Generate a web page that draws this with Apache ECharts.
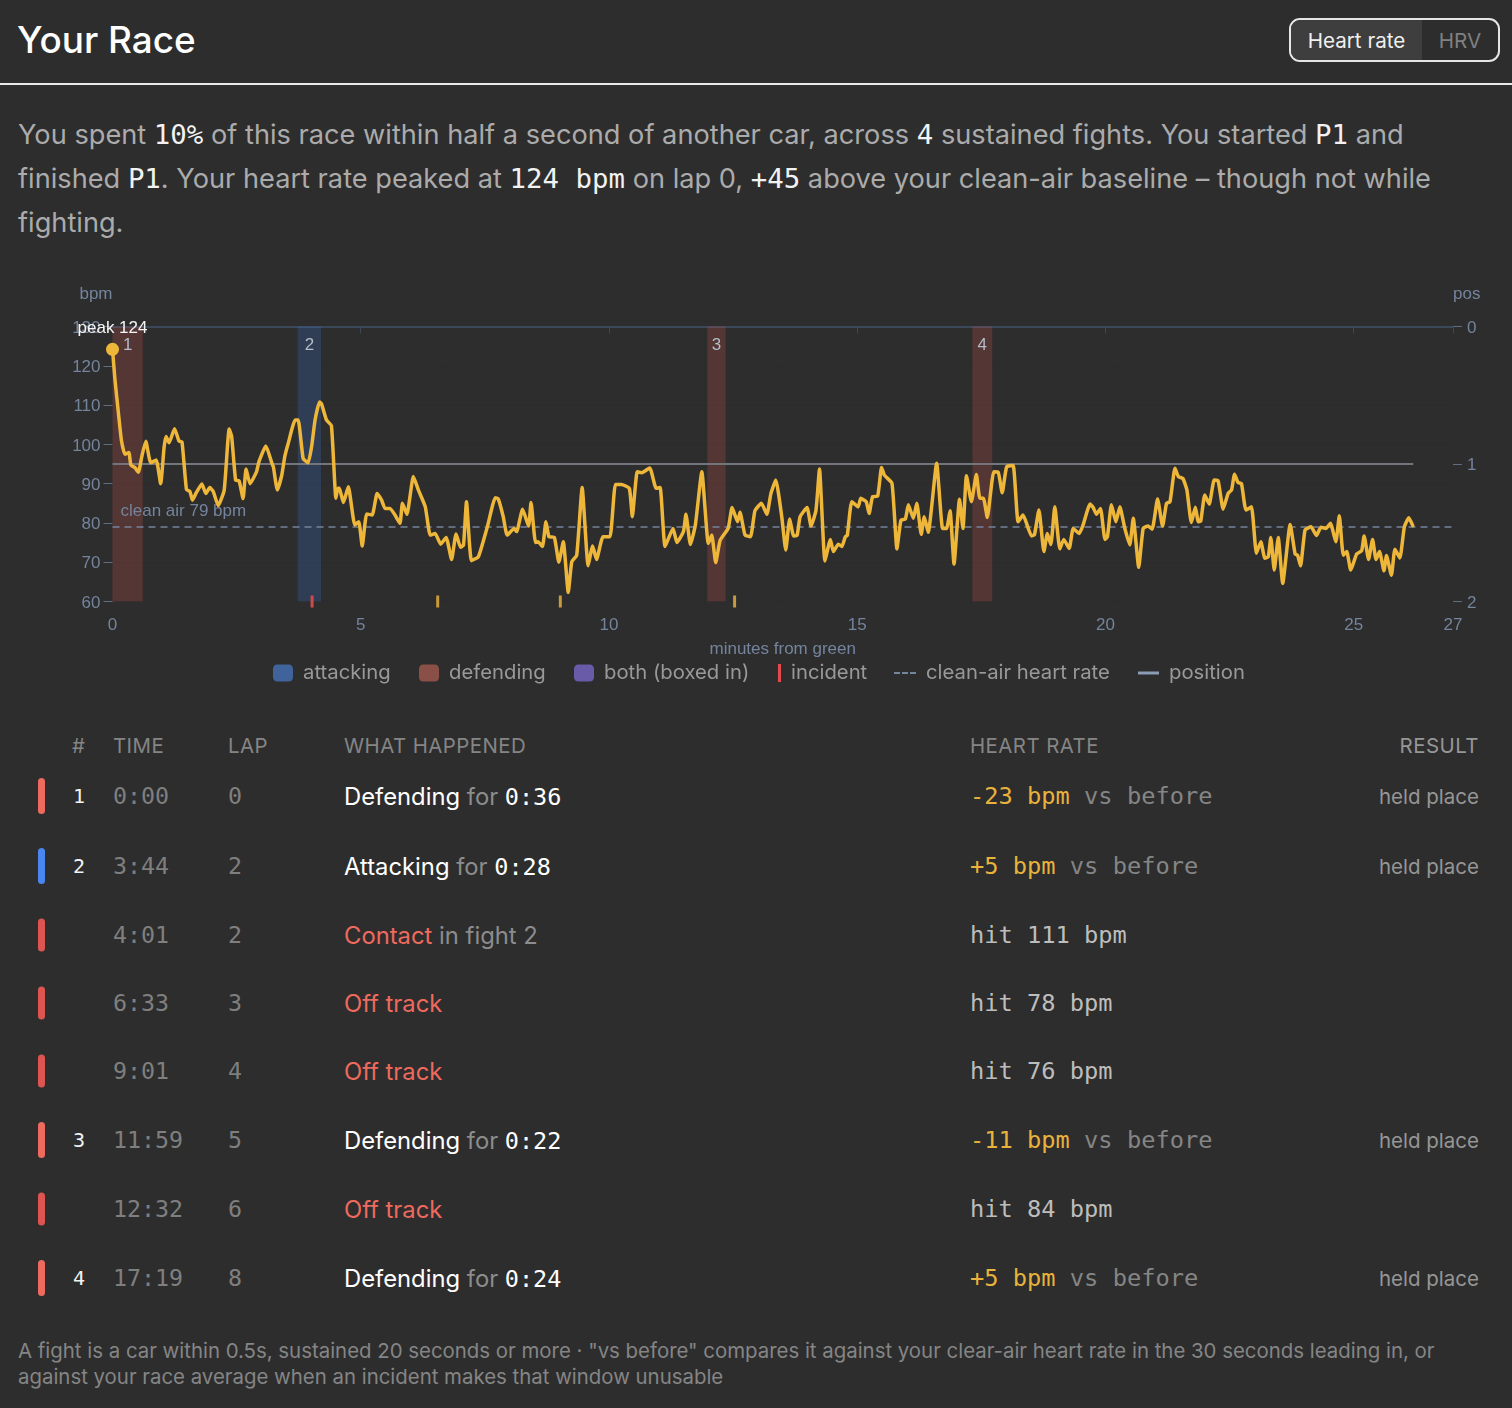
<!DOCTYPE html>
<html>
<head>
<meta charset="utf-8">
<title>Your Race</title>
<script src="https://cdn.jsdelivr.net/npm/echarts@6/dist/echarts.min.js"></script>
<style>
    html, body { margin: 0; padding: 0; background: #2d2d2d; }
    body { position: relative; width: 1512px; height: 1408px; overflow: hidden; font-family: Inter, sans-serif; color: #b0b0b0; }
    .mono { font-family: "DejaVu Sans Mono", monospace; }
    h1 { position: absolute; left: 17px; top: 17px; margin: 0; font-size: 36.9px; line-height: 46px; font-weight: 500; color: #fff; }
    .rule { position: absolute; left: 0; top: 83px; width: 1512px; height: 2px; background: #e8e8e8; }
    .toggle { position: absolute; left: 1289px; top: 18px; width: 207px; height: 40px; border: 2px solid #e6e6e6; border-radius: 11px; overflow: hidden; display: flex; font-size: 20.6px; line-height: 41px; }
    .toggle .on { width: 131px; background: #3e3e3e; color: #f0f0f0; text-align: center; }
    .toggle .off { flex: 1; color: #808080; text-align: center; }
    .summary { position: absolute; left: 18px; top: 113px; width: 1470px; margin: 0; font-size: 27.2px; line-height: 44px; color: #ababab; }
    .summary b { font-weight: 400; color: #f2f2f2; line-height: 0; }
    .summary b.mono { font-size: 27.4px; }
    #chart { position: absolute; left: 0; top: 270px; width: 1512px; height: 430px; }
    .cell { position: absolute; white-space: nowrap; transform: translateY(-50%); }
    .head { font-size: 20.4px; letter-spacing: 0.45px; color: #858585; }
    .bar { position: absolute; left: 38px; width: 7px; border-radius: 4px; transform: translateY(-50%); }
    .what { font-size: 23.8px; color: #fff; }
    .what i { font-style: normal; color: #8c8c8c; }
    .what em { font-style: normal; color: #ee6a5e; }
    .what .mono { font-size: 23.5px; }
    .num { font-size: 20px; color: #f2f2f2; }
    .dim { font-size: 23.3px; color: #7f7f7f; }
    .hr { font-size: 23.7px; color: #bdbdbd; }
    .hr u { text-decoration: none; color: #e8b23c; }
    .hr i { font-style: normal; color: #858585; }
    .result { font-size: 20.5px; color: #969696; right: 33px; }
    .foot { position: absolute; left: 18px; top: 1338px; width: 1470px; margin: 0; font-size: 20.4px; line-height: 26px; color: #858585; }
</style>
</head>
<body>
<h1>Your Race</h1>
<div class="toggle"><div class="on">Heart rate</div><div class="off">HRV</div></div>
<div class="rule"></div>
<p class="summary">You spent <b class="mono">10%</b> of this race within half a second of another car, across <b class="mono">4</b> sustained fights. You started <b class="mono">P1</b> and finished <b class="mono">P1</b>. Your heart rate peaked at <b class="mono">124 bpm</b> on lap 0, <b class="mono">+45</b> above your clean-air baseline – though not while fighting.</p>
<div id="chart"></div>
<div id="events"></div>
<p class="foot">A fight is a car within 0.5s, sustained 20 seconds or more · "vs before" compares it against your clear-air heart rate in the 30 seconds leading in, or against your race average when an incident makes that window unusable</p>

<script>
    // heart rate, [minutes from green, bpm]
    var hrTrace = [
        [0, 124.2], [0.05, 116.4], [0.12, 107.9], [0.18, 101], [0.25, 97.5], [0.33, 97.9], [0.37, 94.7], [0.45, 94.1], [0.52, 92.9], [0.59, 96.9],
        [0.67, 100.8], [0.77, 95.3], [0.88, 96], [0.97, 90], [1.04, 99.4], [1.08, 102], [1.14, 100.4], [1.25, 104], [1.34, 100.8], [1.4, 100.6],
        [1.49, 88.5], [1.56, 88], [1.61, 85.8], [1.68, 87.5], [1.8, 89.9], [1.88, 87.5], [1.96, 89], [2.03, 88], [2.13, 84.4], [2.25, 88.4],
        [2.35, 103.9], [2.4, 102], [2.48, 90.9], [2.55, 90.7], [2.63, 86.2], [2.69, 93.7], [2.77, 90], [2.9, 93], [2.95, 95.6], [3.09, 99.6],
        [3.21, 95.2], [3.24, 94.3], [3.32, 88.4], [3.41, 92.2], [3.47, 96.9], [3.54, 100.3], [3.68, 106.2], [3.74, 106.2], [3.84, 96.4], [3.94, 95.3],
        [4.01, 99.4], [4.08, 106.2], [4.17, 110.8], [4.21, 110.3], [4.31, 106.2], [4.41, 104.7], [4.5, 86.3], [4.54, 88.8], [4.57, 88.8], [4.65, 85.2],
        [4.75, 89.2], [4.88, 79.5], [4.96, 80.3], [5.03, 74.1], [5.12, 82.3], [5.23, 82], [5.33, 87.5], [5.42, 85.8], [5.49, 83.7], [5.59, 83.7],
        [5.69, 82], [5.79, 79.9], [5.84, 85], [5.93, 82.2], [6.06, 91.8], [6.16, 88.4], [6.3, 84.1], [6.4, 76.9], [6.5, 77.3], [6.61, 74.6],
        [6.72, 76.3], [6.83, 70.7], [6.92, 77.2], [7.01, 73.8], [7.07, 74.4], [7.13, 85.4], [7.23, 70.4], [7.37, 71.4], [7.55, 79], [7.71, 86.4],
        [7.77, 86.1], [7.87, 81.6], [7.95, 76.9], [8.09, 78.6], [8.14, 77.8], [8.26, 83.5], [8.38, 79.2], [8.43, 85.2], [8.52, 75], [8.57, 75.2],
        [8.66, 74], [8.73, 80.3], [8.79, 76.5], [8.9, 76.3], [8.99, 70], [9.08, 75.2], [9.18, 62.3], [9.25, 70.1], [9.35, 71.8], [9.46, 89],
        [9.58, 69.1], [9.67, 74.1], [9.75, 70.7], [9.88, 76.5], [10.02, 76.5], [10.13, 89.8], [10.25, 89.8], [10.41, 88.8], [10.47, 81.6], [10.57, 93],
        [10.66, 92.8], [10.82, 94], [10.95, 88.8], [11.03, 89], [11.13, 74], [11.29, 78.6], [11.37, 75], [11.5, 77.8], [11.55, 82.2], [11.64, 74.5],
        [11.74, 79.5], [11.87, 93], [12, 74.8], [12.07, 76.9], [12.15, 69.9], [12.24, 75.6], [12.4, 78.6], [12.48, 83.9], [12.59, 80.3], [12.64, 82.7],
        [12.74, 76.9], [12.85, 76.5], [12.94, 83.1], [13.07, 85], [13.18, 82.2], [13.26, 87.4], [13.36, 90.9], [13.48, 81.6], [13.56, 73.1], [13.64, 81],
        [13.72, 76.7], [13.79, 76.9], [13.85, 81.6], [13.99, 83.9], [14.07, 79.2], [14.17, 83.3], [14.24, 93.7], [14.35, 70.3], [14.46, 75.8], [14.52, 72.7],
        [14.62, 74.6], [14.69, 74], [14.76, 76.5], [14.8, 76.8], [14.89, 85.4], [15.02, 84.1], [15.07, 86.3], [15.18, 85.4], [15.24, 82.4], [15.31, 86.7],
        [15.41, 86.8], [15.49, 94.1], [15.55, 92.1], [15.7, 90.1], [15.8, 73.4], [15.88, 80.7], [15.97, 81], [16.03, 84.6], [16.13, 81.2], [16.2, 85],
        [16.29, 77.1], [16.35, 81.6], [16.43, 77.6], [16.6, 95.2], [16.72, 78.6], [16.8, 78.6], [16.87, 83.1], [16.95, 69.5], [17.06, 86], [17.13, 78.6],
        [17.2, 92], [17.3, 85.4], [17.4, 92.3], [17.47, 86.3], [17.54, 86.3], [17.62, 81.4], [17.75, 93], [17.84, 92.9], [17.92, 87.7], [18.01, 94.3],
        [18.14, 94.6], [18.24, 80.3], [18.34, 82], [18.51, 76.7], [18.57, 77], [18.66, 83.3], [18.76, 72.7], [18.83, 77.3], [18.9, 74.5], [18.98, 84.1],
        [19.08, 73.4], [19.16, 75.8], [19.27, 73.5], [19.35, 78.6], [19.47, 77.3], [19.55, 79.5], [19.69, 84.8], [19.75, 84], [19.82, 82.2], [19.9, 83.7],
        [19.99, 75.8], [20.04, 76.5], [20.12, 84.6], [20.21, 80.3], [20.29, 84.1], [20.39, 78.6], [20.49, 74.4], [20.56, 81.2], [20.67, 68.7], [20.76, 78.6],
        [20.86, 79.2], [20.94, 78.4], [21.05, 86.1], [21.15, 79.2], [21.23, 85], [21.3, 85.4], [21.4, 93.9], [21.47, 91.8], [21.56, 91.3], [21.64, 88.4],
        [21.73, 80.1], [21.81, 84], [21.87, 80.3], [21.92, 80.5], [22, 87.1], [22.09, 84.8], [22.19, 90.9], [22.27, 90.7], [22.37, 83.5], [22.47, 87.5],
        [22.54, 88.4], [22.6, 92.4], [22.67, 90.3], [22.74, 90], [22.83, 83.3], [22.94, 84.1], [23.04, 72.3], [23.13, 75.2], [23.21, 71], [23.28, 71.4],
        [23.33, 76.3], [23.4, 68], [23.48, 76.3], [23.57, 64.6], [23.72, 79.6], [23.82, 72.1], [23.87, 71.8], [23.93, 69.1], [24.02, 78.2], [24.14, 79],
        [24.25, 76.8], [24.34, 78.9], [24.44, 78.6], [24.53, 79.9], [24.64, 75.2], [24.71, 81.8], [24.79, 71.8], [24.86, 72.7], [24.94, 68], [25.06, 72.1],
        [25.16, 72.9], [25.21, 76.7], [25.3, 70.7], [25.38, 75.8], [25.45, 70.7], [25.52, 72.7], [25.61, 67.8], [25.66, 71.7], [25.76, 66.7], [25.83, 73.3],
        [25.93, 71.1], [26.02, 79], [26.11, 81.3], [26.19, 79.3]
    ];
    var positionTrace = [[0, 1], [26.2, 1]];
    var cleanAirBpm = 79;
    var peakPoint = [0, 124.2];

    // fights as [start, end, fight number]
    var attackingSpans = [[3.73, 4.2, '2']];
    var defendingSpans = [[0, 0.61, '1'], [11.98, 12.35, '3'], [17.32, 17.72, '4']];
    var bothSpans = [];
    var contactMinutes = [4.02];
    var offTrackMinutes = [6.55, 9.02, 12.53];

    var xTicks = [0, 5, 10, 15, 20, 25, 27];

    // table rows
    var rowFight = ['1', '2', '', '', '', '3', '', '4'];
    var rowTime = ['0:00', '3:44', '4:01', '6:33', '9:01', '11:59', '12:32', '17:19'];
    var rowLap = ['0', '2', '2', '3', '4', '5', '6', '8'];
    var rowKind = ['defending', 'attacking', 'incident', 'incident', 'incident', 'defending', 'incident', 'defending'];
    var rowWhat = [
        'Defending <i>for</i> <span class="mono">0:36</span>',
        'Attacking <i>for</i> <span class="mono">0:28</span>',
        '<em>Contact</em> <i>in fight 2</i>',
        '<em>Off track</em>',
        '<em>Off track</em>',
        'Defending <i>for</i> <span class="mono">0:22</span>',
        '<em>Off track</em>',
        'Defending <i>for</i> <span class="mono">0:24</span>'
    ];
    var rowHeart = [
        '<u>-23 bpm</u> <i>vs before</i>',
        '<u>+5 bpm</u> <i>vs before</i>',
        'hit 111 bpm',
        'hit 78 bpm',
        'hit 76 bpm',
        '<u>-11 bpm</u> <i>vs before</i>',
        'hit 84 bpm',
        '<u>+5 bpm</u> <i>vs before</i>'
    ];
    var rowResult = ['held place', 'held place', '', '', '', 'held place', '', 'held place'];

    var rowTops = [796, 866, 935, 1003, 1071, 1140, 1209, 1278];
    var barColors = { defending: '#ee6a5e', attacking: '#4a86f0', incident: '#dd5450' };

    var slate = '#74849c';
    var chartFont = '"Liberation Sans", Arial, sans-serif';

    function bandData(spans) {
        return spans.map(function (s) {
            return [{ name: s[2], xAxis: s[0], yAxis: 60 }, { xAxis: s[1], yAxis: 130 }];
        });
    }

    function bandSeries(name, spans, color) {
        return {
            name: name,
            type: 'line',
            data: [],
            markArea: {
                silent: true,
                itemStyle: { color: color },
                label: { show: true, position: 'insideTop', distance: 10, color: '#b4bcc8', fontSize: 17, fontFamily: chartFont },
                data: bandData(spans)
            }
        };
    }

    function legendItem(left, name, icon, color, w, h) {
        return {
            left: left,
            top: 393,
            orient: 'horizontal',
            padding: 0,
            selectedMode: false,
            itemWidth: w,
            itemHeight: h,
            textStyle: { color: '#999', fontSize: 20.3, fontFamily: 'Inter, sans-serif', padding: [0, 0, 0, 5] },
            data: [{ name: name, icon: icon, itemStyle: { color: color, opacity: 1 } }]
        };
    }

    var chart = echarts.init(document.getElementById('chart'), null, { renderer: 'canvas' });
    chart.setOption({
        animation: false,
        backgroundColor: 'transparent',
        textStyle: { fontFamily: chartFont },
        grid: { left: 112.5, right: 59, top: 56.5, height: 275 },
        legend: [
            legendItem(273, 'attacking', 'roundRect', '#3f639a', 20, 17),
            legendItem(419, 'defending', 'roundRect', '#8a4f46', 20, 17),
            legendItem(574, 'both (boxed in)', 'roundRect', '#6a5ba8', 20, 17),
            legendItem(778, 'incident', 'rect', '#e5484d', 3, 18),
            legendItem(894, 'clean-air heart rate', 'path://M0 0h6v2H0z M8 0h6v2H8z M16 0h6v2h-6z', '#74849c', 22, 2),
            legendItem(1138, 'position', 'rect', '#8b9bb4', 21, 3)
        ],
        xAxis: [
            {
                type: 'value', min: 0, max: 27, position: 'bottom',
                name: 'minutes from green', nameLocation: 'middle', nameGap: 39,
                nameTextStyle: { color: slate, fontSize: 17 },
                axisLine: { show: false, onZero: false }, axisTick: { show: false }, splitLine: { show: false },
                axisLabel: { color: slate, fontSize: 17, margin: 15, showMinLabel: true, showMaxLabel: true, customValues: xTicks }
            },
            {
                type: 'value', min: 0, max: 27, position: 'top',
                axisLine: { show: true, onZero: false, lineStyle: { color: '#3b4859', width: 2 } },
                axisTick: { show: true, inside: true, length: 7, lineStyle: { color: '#3b4859' }, customValues: xTicks.slice(1) },
                axisLabel: { show: false }, splitLine: { show: false }
            }
        ],
        yAxis: [
            {
                type: 'value', min: 60, max: 130, interval: 10, position: 'left',
                name: 'bpm', nameLocation: 'end', nameGap: 24,
                nameTextStyle: { color: slate, fontSize: 17, align: 'right' },
                axisLine: { show: false, onZero: false },
                axisTick: { show: true, length: 9, lineStyle: { color: '#5f6e83' } },
                axisLabel: { color: slate, fontSize: 17, margin: 12, verticalAlign: 'top', lineHeight: 3 },
                splitLine: { show: true, lineStyle: { color: '#2b2b2b' } }
            },
            {
                type: 'value', min: 0, max: 2, interval: 1, position: 'right', inverse: true,
                name: 'pos', nameLocation: 'start', nameGap: 24,
                nameTextStyle: { color: slate, fontSize: 17, align: 'left' },
                axisLine: { show: false, onZero: false },
                axisTick: { show: true, length: 9, lineStyle: { color: '#5f6e83' } },
                axisLabel: { color: slate, fontSize: 17, margin: 14, verticalAlign: 'top', lineHeight: 3 },
                splitLine: { show: false }
            }
        ],
        series: [
            bandSeries('attacking', attackingSpans, 'rgba(59,130,246,0.2)'),
            bandSeries('defending', defendingSpans, 'rgba(239,91,79,0.2)'),
            bandSeries('both (boxed in)', bothSpans, 'rgba(139,110,230,0.25)'),
            {
                name: 'position',
                type: 'line',
                yAxisIndex: 1,
                data: positionTrace,
                showSymbol: false,
                lineStyle: { color: '#72757b', width: 2 },
                itemStyle: { color: '#72757b' }
            },
            {
                name: 'clean-air heart rate',
                type: 'line',
                data: [],
                markLine: {
                    silent: true,
                    symbol: 'none',
                    lineStyle: { color: '#74849c', type: [7, 5], width: 1.5 },
                    label: {
                        show: true, position: 'insideStartTop', formatter: 'clean air ' + cleanAirBpm + ' bpm',
                        color: slate, fontSize: 17, distance: [8, 7]
                    },
                    data: [{ yAxis: cleanAirBpm }]
                }
            },
            {
                name: 'heart rate',
                type: 'line',
                data: hrTrace,
                showSymbol: false,
                smooth: 0.15,
                z: 5,
                lineStyle: { color: '#eeb73a', width: 3.5, cap: 'round', join: 'round' },
                itemStyle: { color: '#eeb73a' }
            },
            {
                name: 'peak',
                type: 'scatter',
                data: [peakPoint],
                clip: false,
                z: 6,
                symbolSize: 13,
                itemStyle: { color: '#eeb73a', opacity: 1 },
                label: { show: true, position: 'top', distance: 6, formatter: 'peak ' + Math.round(peakPoint[1]), color: '#f5f5f5', fontSize: 17 }
            },
            {
                name: 'incident',
                type: 'scatter',
                data: contactMinutes.map(function (m) { return [m, 60]; }),
                clip: false,
                symbol: 'rect',
                symbolSize: [3, 12],
                itemStyle: { color: '#cf4a48', opacity: 1 }
            },
            {
                name: 'off track',
                type: 'scatter',
                data: offTrackMinutes.map(function (m) { return [m, 60]; }),
                clip: false,
                symbol: 'rect',
                symbolSize: [3, 12],
                itemStyle: { color: '#c79a3a', opacity: 1 }
            }
        ]
    });

    // events table
    var html = '';
    function cell(cls, left, top, text) {
        return '<div class="cell ' + cls + '" style="' + (left === null ? '' : 'left:' + left + 'px;') + 'top:' + top + 'px">' + text + '</div>';
    }
    html += cell('head', 72, 745, '#') + cell('head', 113, 745, 'TIME') + cell('head', 228, 745, 'LAP');
    html += cell('head', 344, 745, 'WHAT HAPPENED') + cell('head', 970, 745, 'HEART RATE') + cell('head result', null, 745, 'RESULT');
    for (var i = 0; i < rowTime.length; i++) {
        var y = rowTops[i];
        var tall = rowKind[i] == 'incident' ? 33 : 36;
        html += '<div class="bar" style="top:' + y + 'px;height:' + tall + 'px;background:' + barColors[rowKind[i]] + '"></div>';
        html += cell('num mono', 73, y, rowFight[i]);
        html += cell('dim mono', 113, y - 1, rowTime[i]);
        html += cell('dim mono', 228, y - 1, rowLap[i]);
        html += cell('what', 344, y, rowWhat[i]);
        html += cell('hr mono', 970, y, rowHeart[i]);
        html += cell('result', null, y, rowResult[i]);
    }
    document.getElementById('events').innerHTML = html;
</script>
</body>
</html>
